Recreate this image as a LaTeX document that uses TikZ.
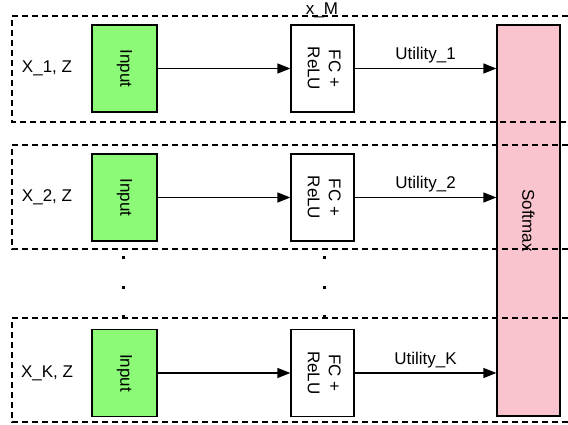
\documentclass[tikz,border=0pt]{standalone}
\usepackage{fontspec}
\setmainfont{Liberation Sans}
\usepackage{graphicx}
\usetikzlibrary{arrows.meta}
\definecolor{ingreen}{HTML}{8CF977}
\definecolor{smpink}{HTML}{F9C4CE}
\begin{document}
\begin{tikzpicture}[x=1pt,y=-1pt,
  font=\fontsize{17}{21}\selectfont,
  inbox/.style={draw, line width=1.2pt, fill=ingreen, minimum width=65pt, minimum height=87pt, inner sep=0pt},
  fcbox/.style={draw, line width=1.2pt, fill=white, minimum width=63pt, minimum height=87pt, inner sep=0pt},
  smbox/.style={draw, line width=1.2pt, fill=smpink, minimum width=63pt, minimum height=391pt, inner sep=0pt},
  arr/.style={line width=1.2pt, -{Triangle[length=13pt,width=10pt]}},
  frame/.style={line width=1.1pt, dash pattern=on 6pt off 4pt},
  dotm/.style={rectangle, fill=black, minimum size=3pt, inner sep=0pt},
  rowlab/.style={inner sep=0pt},
  utl/.style={anchor=base, inner sep=0pt, yshift=9pt}]
\useasboundingbox (0,0) rectangle (568,425);
\fill[white] (0,0) rectangle (568,425);

% softmax
\node[smbox] (sm) at (528.5,220.5) {\rotatebox{-90}{Softmax}};

% rows
\node[inbox] (in1) at (124.5,68.5) {\rotatebox{-90}{Input}};
\node[fcbox] (fc1) at (322.5,68.5) {\rotatebox{-90}{\begin{tabular}{@{}c@{}}FC +\\ReLU\end{tabular}}};
\node[rowlab] (l1) at (47,68.5) {X\_1, Z};

\node[inbox] (in2) at (124.5,197.5) {\rotatebox{-90}{Input}};
\node[fcbox] (fc2) at (322.5,197.5) {\rotatebox{-90}{\begin{tabular}{@{}c@{}}FC +\\ReLU\end{tabular}}};
\node[rowlab] (l2) at (47,197.5) {X\_2, Z};

\node[inbox] (in3) at (124.5,373) {\rotatebox{-90}{Input}};
\node[fcbox] (fc3) at (322.5,373) {\rotatebox{-90}{\begin{tabular}{@{}c@{}}FC +\\ReLU\end{tabular}}};
\node[rowlab] (l3) at (47,373) {X\_K, Z};

% arrows
\draw[arr] (in1) -- (fc1);
\draw[arr] (in2) -- (fc2);
\draw[arr] (in3) -- (fc3);
\draw[arr] (fc1) -- (fc1 -| sm.west) node[midway, utl] {Utility\_1};
\draw[arr] (fc2) -- (fc2 -| sm.west) node[midway, utl] {Utility\_2};
\draw[arr] (fc3) -- (fc3 -| sm.west) node[midway, utl] {Utility\_K};

% dots
\node[dotm] (da1) at (123.5,257) {};
\node[dotm] (da2) at (123.5,287) {};
\node[dotm] (da3) at (123.5,316) {};
\node[dotm] (db1) at (324,257) {};
\node[dotm] (db2) at (324,287) {};
\node[dotm] (db3) at (324,316) {};

% dashed frames
\draw[frame] (568,16) -- (12,16) -- (12,122) -- (568,122);
\draw[frame] (568,145) -- (12,145) -- (12,249) -- (568,249);
\draw[frame] (568,318) -- (12,318) -- (12,422) -- (568,422);

% x_M label
\node[anchor=base, inner sep=0pt] (xm) at (322,14.5) {x\_M};
\end{tikzpicture}
\end{document}
